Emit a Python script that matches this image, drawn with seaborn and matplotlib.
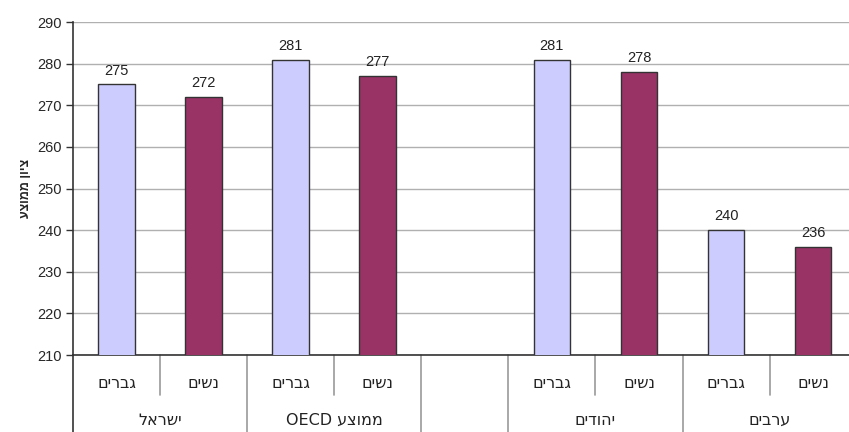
import pandas as pd
import matplotlib.pyplot as plt
import matplotlib.transforms as mtransforms
import seaborn as sns

# slots from left to right (one empty slot between the two blocks)
slots = ["il_m", "il_f", "oecd_m", "oecd_f", "gap", "jew_m", "jew_f", "arab_m", "arab_f"]
genders = ["m", "f", "m", "f", None, "m", "f", "m", "f"]
scores = [275, 272, 281, 277, None, 281, 278, 240, 236]

gender_labels = {"m": "גברים", "f": "נשים"}
groups = ["ישראל", "OECD ממוצע", "", "יהודים", "ערבים"]
group_spans = [(0, 1), (2, 3), (4, 4), (5, 6), (7, 8)]
y_label = "ציון ממוצע"

colors = {"m": "#CCCCFF", "f": "#993366"}


def vis(text):
    """matplotlib has no bidi: turn logical Hebrew into visual order."""
    if text == "OECD ממוצע":
        return "OECD " + "ממוצע"[::-1]
    return text[::-1]


df = pd.DataFrame({"slot": slots, "gender": genders, "score": scores}).dropna()

sns.set_style("white")
plt.rcParams["font.family"] = ["Liberation Sans", "DejaVu Sans"]

fig = plt.figure(figsize=(8.49, 4.32), dpi=100)
ax = fig.add_axes([0.086, 0.178, 0.923, 0.771])

sns.barplot(data=df, x="slot", y="score", hue="gender", order=slots,
            hue_order=["m", "f"], palette=colors, saturation=1, dodge=False,
            width=0.42, edgecolor="#333333", linewidth=1.0, legend=False,
            ax=ax, zorder=3)

for cont in ax.containers:
    labels = [f"{v:.0f}" if v == v else "" for v in cont.datavalues]
    ax.bar_label(cont, labels=labels, padding=5, fontsize=10.5, color="#222222")

ax.set_ylim(210, 290)
ax.set_yticks(range(210, 291, 10))
ax.set_xlim(-0.5, len(slots) - 0.5)
ax.yaxis.grid(True, color="#b0b0b0", linewidth=1.0, zorder=0)
ax.tick_params(axis="y", labelsize=10.5, length=5, width=1, color="#333333",
               left=True, pad=3)
ax.set_xticks([])
ax.set_xlabel("")
ax.set_ylabel(vis(y_label), fontsize=9, fontweight="bold", labelpad=4)
for s in ["top", "right"]:
    ax.spines[s].set_visible(False)
for s in ["left", "bottom"]:
    ax.spines[s].set_color("#333333")
    ax.spines[s].set_linewidth(1.2)

# two level category axis, Excel style
trans = mtransforms.blended_transform_factory(ax.transData, ax.transAxes)
row1_y, row2_y = -0.084, -0.195
short_end, long_end = -0.12, -0.235

for i, g in enumerate(genders):
    if g:
        ax.text(i, row1_y, vis(gender_labels[g]), transform=trans, ha="center",
                va="center", fontsize=11.5, color="#222222", family="DejaVu Sans")

long_edges = set()
for name, (a, b) in zip(groups, group_spans):
    long_edges.update([a - 0.5, b + 0.5])
    if name:
        ax.text((a + b) / 2, row2_y, vis(name), transform=trans, ha="center",
                va="center", fontsize=11.5, color="#222222", family="DejaVu Sans")

for k in range(len(slots) + 1):
    x = k - 0.5
    end = long_end if x in long_edges else short_end
    col = "#333333" if k == 0 else "#999999"
    ax.plot([x, x], [0, end], transform=trans, color=col, linewidth=1.2,
            clip_on=False)

fig.savefig("out.png", dpi=100)
